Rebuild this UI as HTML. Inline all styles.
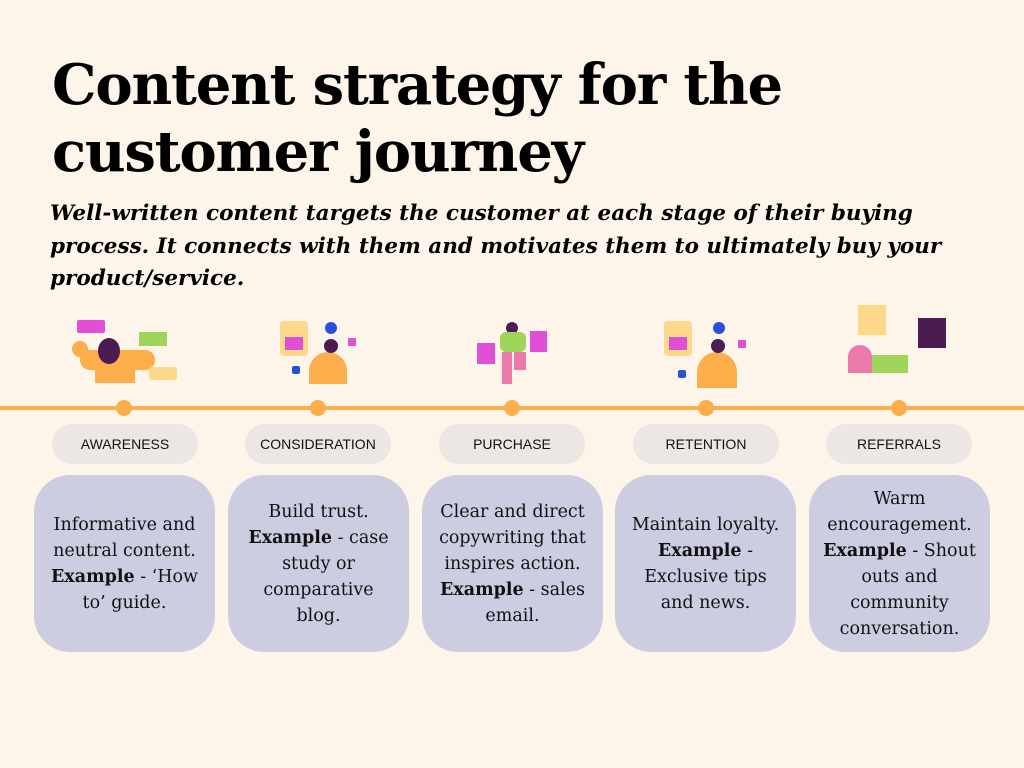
<!DOCTYPE html>
<html><head><meta charset="utf-8"><style>
body{margin:0;width:1024px;height:768px;background:#fdf5e9;position:relative;overflow:hidden;font-family:"DejaVu Serif","Liberation Serif",serif}
h1{position:absolute;left:52px;top:52px;margin:0;font-size:56px;line-height:67px;font-weight:bold;color:#000;letter-spacing:-1.2px}
.sub{position:absolute;left:50px;top:198px;width:940px;font-size:21.5px;line-height:32.5px;font-style:italic;font-weight:bold;color:#000}
.line{position:absolute;left:0;top:406px;width:1024px;height:4px;background:#fbae4a}
.dot{position:absolute;top:400px;width:16px;height:16px;border-radius:50%;background:#fbae4a}
.pill{position:absolute;top:424px;width:146px;height:40px;border-radius:20px;background:#ece7e3;font-family:"Liberation Sans",sans-serif;font-size:14px;line-height:40px;text-align:center;color:#111}
.box{position:absolute;top:475px;width:181px;height:177px;border-radius:36px;background:#cdcde1;display:flex;align-items:center;justify-content:center;text-align:center;font-size:17.5px;line-height:26px;color:#111;box-sizing:border-box;padding:0 12px}
.s{position:absolute}
</style></head><body>
<h1>Content strategy for the<br>customer journey</h1>
<div class="sub">Well-written content targets the customer at each stage of their buying process. It connects with them and motivates them to ultimately buy your product/service.</div>

<div class="s" style="left:77px;top:320px;width:28px;height:13px;background:#e04fd6;border-radius:2px"></div>
<div class="s" style="left:72px;top:341px;width:16px;height:16px;background:#fbae4a;border-radius:50%"></div>
<div class="s" style="left:80px;top:350px;width:75px;height:20px;background:#fbae4a;border-radius:10px"></div>
<div class="s" style="left:95px;top:355px;width:40px;height:28px;background:#fbae4a;border-radius:14px 14px 0 0"></div>
<div class="s" style="left:98px;top:338px;width:22px;height:26px;background:#4a1c52;border-radius:50%"></div>
<div class="s" style="left:139px;top:332px;width:28px;height:14px;background:#9fd45a"></div>
<div class="s" style="left:149px;top:367px;width:28px;height:13px;background:#fcd98a;border-radius:3px"></div>
<div class="s" style="left:280px;top:321px;width:28px;height:35px;background:#fcd98a;border-radius:4px"></div>
<div class="s" style="left:285px;top:337px;width:18px;height:13px;background:#e04fd6"></div>
<div class="s" style="left:309px;top:352px;width:38px;height:32px;background:#fbae4a;border-radius:19px 19px 0 0"></div>
<div class="s" style="left:324px;top:339px;width:14px;height:14px;background:#4a1c52;border-radius:50%"></div>
<div class="s" style="left:325px;top:322px;width:12px;height:12px;background:#2a4fd8;border-radius:50%"></div>
<div class="s" style="left:292px;top:366px;width:8px;height:8px;background:#2a4fd8;border-radius:2px"></div>
<div class="s" style="left:348px;top:338px;width:8px;height:8px;background:#e04fd6"></div>
<div class="s" style="left:477px;top:343px;width:18px;height:21px;background:#e04fd6"></div>
<div class="s" style="left:530px;top:331px;width:17px;height:21px;background:#e04fd6"></div>
<div class="s" style="left:506px;top:322px;width:12px;height:12px;background:#4a1c52;border-radius:50%"></div>
<div class="s" style="left:500px;top:332px;width:26px;height:20px;background:#9fd45a;border-radius:6px"></div>
<div class="s" style="left:502px;top:352px;width:10px;height:32px;background:#ec7aa8"></div>
<div class="s" style="left:514px;top:352px;width:12px;height:18px;background:#ec7aa8"></div>
<div class="s" style="left:664px;top:321px;width:28px;height:35px;background:#fcd98a;border-radius:4px"></div>
<div class="s" style="left:669px;top:337px;width:18px;height:13px;background:#e04fd6"></div>
<div class="s" style="left:697px;top:352px;width:40px;height:36px;background:#fbae4a;border-radius:20px 20px 0 0"></div>
<div class="s" style="left:711px;top:339px;width:14px;height:14px;background:#4a1c52;border-radius:50%"></div>
<div class="s" style="left:713px;top:322px;width:12px;height:12px;background:#2a4fd8;border-radius:50%"></div>
<div class="s" style="left:678px;top:370px;width:8px;height:8px;background:#2a4fd8;border-radius:2px"></div>
<div class="s" style="left:738px;top:340px;width:8px;height:8px;background:#e04fd6"></div>
<div class="s" style="left:858px;top:305px;width:28px;height:30px;background:#fcd98a"></div>
<div class="s" style="left:918px;top:318px;width:28px;height:30px;background:#4a1c52"></div>
<div class="s" style="left:848px;top:345px;width:24px;height:28px;background:#ec7aa8;border-radius:12px 12px 0 0"></div>
<div class="s" style="left:872px;top:355px;width:36px;height:18px;background:#9fd45a"></div>

<div class="line"></div>
<div class="dot" style="left:116px"></div><div class="dot" style="left:310px"></div><div class="dot" style="left:504px"></div><div class="dot" style="left:698px"></div><div class="dot" style="left:891px"></div>

<div class="pill" style="left:52px">AWARENESS</div>
<div class="pill" style="left:245px">CONSIDERATION</div>
<div class="pill" style="left:439px">PURCHASE</div>
<div class="pill" style="left:633px">RETENTION</div>
<div class="pill" style="left:826px">REFERRALS</div>

<div class="box" style="left:34px"><div>Informative and neutral content. <b>Example</b> - ‘How to’ guide.</div></div>
<div class="box" style="left:228px"><div>Build trust. <b>Example</b> - case study or comparative blog.</div></div>
<div class="box" style="left:422px"><div>Clear and direct copywriting that inspires action. <b>Example</b> - sales email.</div></div>
<div class="box" style="left:615px"><div>Maintain loyalty. <b>Example</b> - Exclusive tips and news.</div></div>
<div class="box" style="left:809px"><div>Warm encouragement. <b>Example</b> - Shout outs and community conversation.</div></div>
</body></html>
